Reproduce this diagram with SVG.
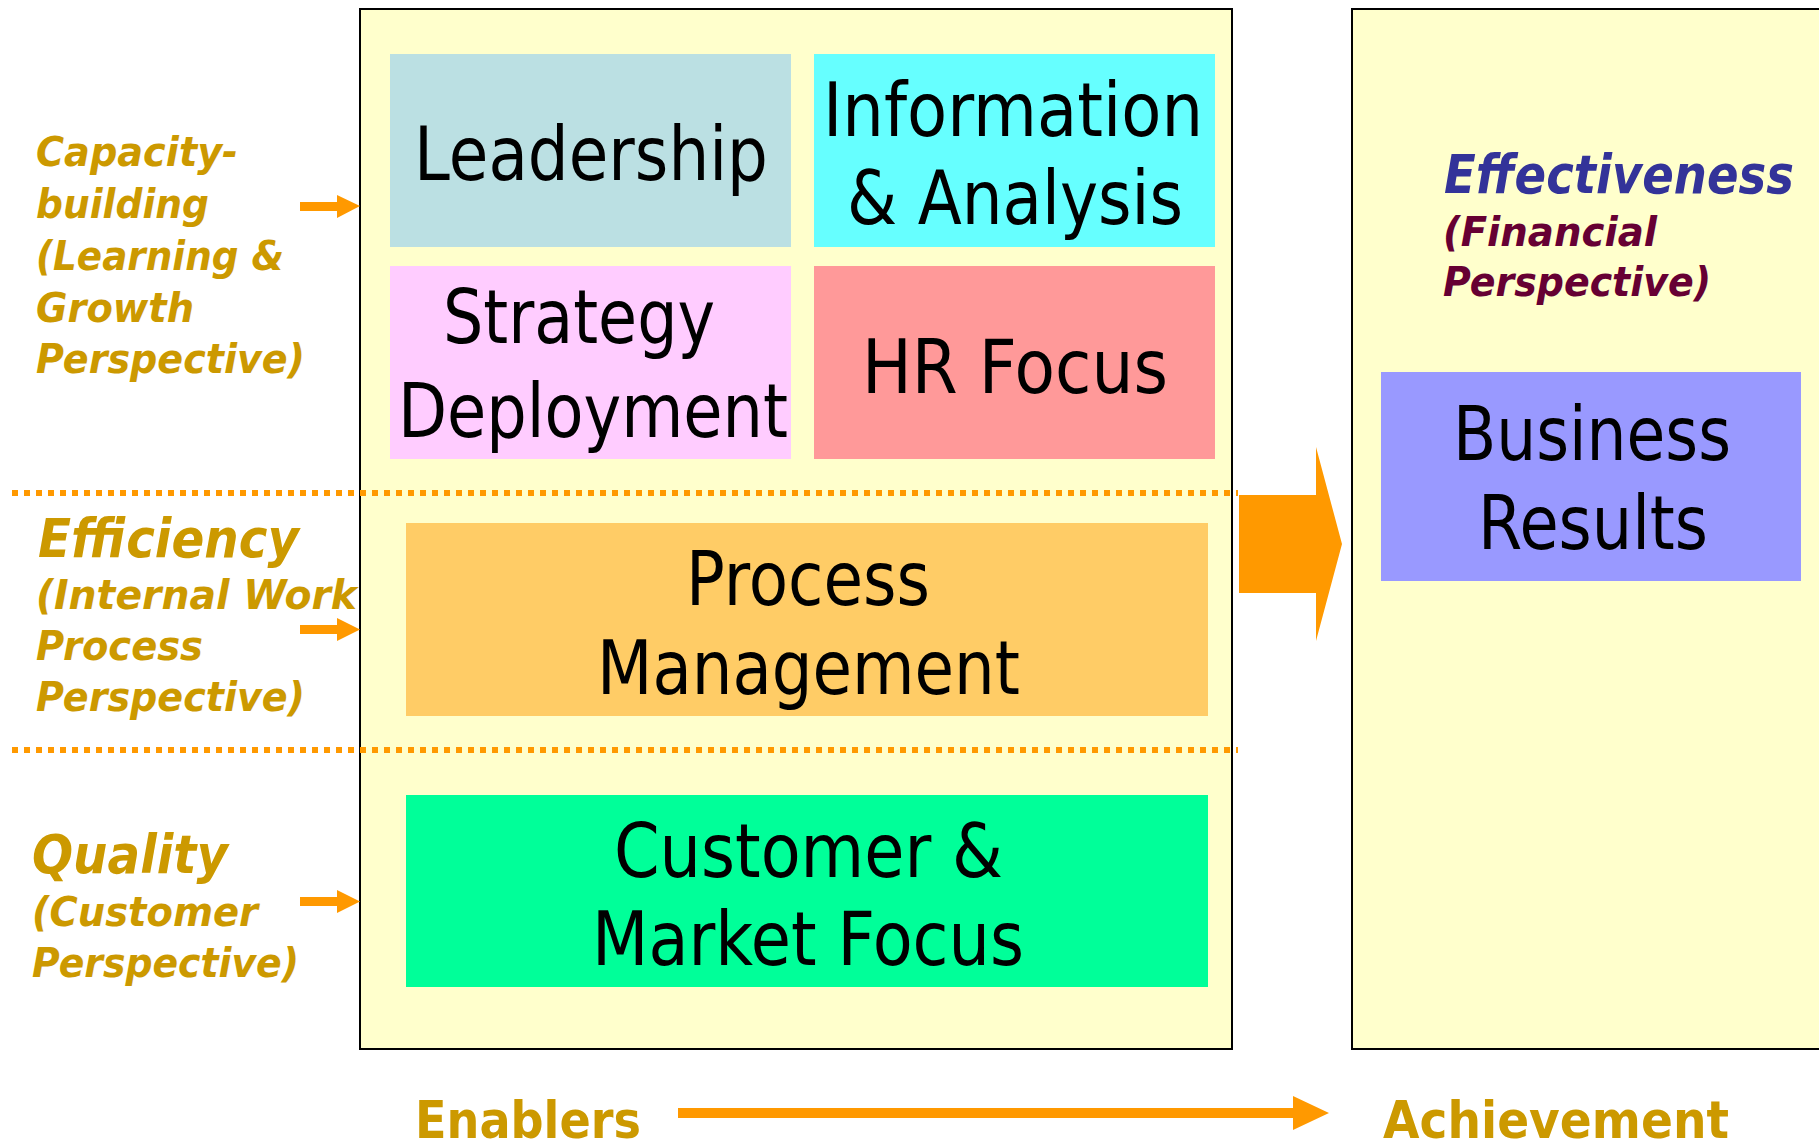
<svg xmlns="http://www.w3.org/2000/svg" width="1819" height="1145" viewBox="0 0 1819 1145">
<style>
.panel{fill:#FFFFCC;stroke:#000;stroke-width:2}
.box{font-family:"DejaVu Sans",Verdana,sans-serif;font-size:75px;fill:#000}
.lbl{font-family:"DejaVu Sans","Liberation Sans",sans-serif;font-weight:bold;font-style:italic;font-size:41px;fill:#CC9900}
.big{font-size:53px}
.axis{font-family:"DejaVu Sans","Liberation Sans",sans-serif;font-weight:bold;font-size:51px;fill:#CC9900}
.sep{stroke:#FF9900;stroke-width:6;stroke-dasharray:6 6;fill:none}
.arr{fill:#FF9900}
</style>
<rect width="1819" height="1145" fill="#fff"/>
<g id="panel-enablers"><rect class="panel" x="360" y="9" width="872" height="1040"/></g>
<g id="panel-achievement"><rect class="panel" x="1352" y="9" width="480" height="1040"/></g>
<g id="separators">
<line class="sep" x1="12" y1="493" x2="1238" y2="493"/>
<line class="sep" x1="12" y1="750" x2="1238" y2="750"/>
</g>
<g id="leadership"><rect x="390" y="54" width="401" height="193" fill="#BBE0E3"/>
<text class="box" x="414" y="180" textLength="354" lengthAdjust="spacingAndGlyphs">Leadership</text></g>
<g id="information-analysis"><rect x="814" y="54" width="401" height="193" fill="#66FFFF"/>
<text class="box" x="823" y="136" textLength="380" lengthAdjust="spacingAndGlyphs">Information</text>
<text class="box" x="847" y="224" textLength="336" lengthAdjust="spacingAndGlyphs">&amp; Analysis</text></g>
<g id="strategy-deployment"><rect x="390" y="266" width="401" height="193" fill="#FFCCFF"/>
<text class="box" x="443" y="343" textLength="272" lengthAdjust="spacingAndGlyphs">Strategy</text>
<text class="box" x="398" y="437" textLength="390" lengthAdjust="spacingAndGlyphs">Deployment</text></g>
<g id="hr-focus"><rect x="814" y="266" width="401" height="193" fill="#FF9999"/>
<text class="box" x="862" y="393" textLength="306" lengthAdjust="spacingAndGlyphs">HR Focus</text></g>
<g id="process-management"><rect x="406" y="523" width="802" height="193" fill="#FFCC66"/>
<text class="box" x="686" y="605" textLength="244" lengthAdjust="spacingAndGlyphs">Process</text>
<text class="box" x="597" y="694" textLength="423" lengthAdjust="spacingAndGlyphs">Management</text></g>
<g id="customer-market-focus"><rect x="406" y="795" width="802" height="192" fill="#00FF99"/>
<text class="box" x="614" y="877" textLength="389" lengthAdjust="spacingAndGlyphs">Customer &amp;</text>
<text class="box" x="592" y="965" textLength="432" lengthAdjust="spacingAndGlyphs">Market Focus</text></g>
<g id="business-results"><rect x="1381" y="372" width="420" height="209" fill="#9999FF"/>
<text class="box" x="1453" y="460" textLength="278" lengthAdjust="spacingAndGlyphs">Business</text>
<text class="box" x="1478" y="549" textLength="230" lengthAdjust="spacingAndGlyphs">Results</text></g>
<g id="label-capacity">
<text class="lbl" x="36" y="166" textLength="202" lengthAdjust="spacingAndGlyphs">Capacity-</text>
<text class="lbl" x="36" y="218" textLength="173" lengthAdjust="spacingAndGlyphs">building</text>
<text class="lbl" x="36" y="270" textLength="248" lengthAdjust="spacingAndGlyphs">(Learning &amp;</text>
<text class="lbl" x="36" y="322" textLength="158" lengthAdjust="spacingAndGlyphs">Growth</text>
<text class="lbl" x="36" y="373" textLength="269" lengthAdjust="spacingAndGlyphs">Perspective)</text>
</g>
<g id="label-efficiency">
<text class="lbl big" x="38" y="557" textLength="261" lengthAdjust="spacingAndGlyphs">Efficiency</text>
<text class="lbl" x="36" y="609" textLength="321" lengthAdjust="spacingAndGlyphs">(Internal Work</text>
<text class="lbl" x="36" y="660" textLength="167" lengthAdjust="spacingAndGlyphs">Process</text>
<text class="lbl" x="36" y="711" textLength="269" lengthAdjust="spacingAndGlyphs">Perspective)</text>
</g>
<g id="label-quality">
<text class="lbl big" x="32" y="873" textLength="196" lengthAdjust="spacingAndGlyphs">Quality</text>
<text class="lbl" x="32" y="926" textLength="226" lengthAdjust="spacingAndGlyphs">(Customer</text>
<text class="lbl" x="32" y="977" textLength="267" lengthAdjust="spacingAndGlyphs">Perspective)</text>
</g>
<g id="label-effectiveness">
<text class="lbl big" x="1444" y="193" style="fill:#333399" textLength="350" lengthAdjust="spacingAndGlyphs">Effectiveness</text>
<text class="lbl" x="1443" y="246" style="fill:#660033" textLength="214" lengthAdjust="spacingAndGlyphs">(Financial</text>
<text class="lbl" x="1443" y="296" style="fill:#660033" textLength="268" lengthAdjust="spacingAndGlyphs">Perspective)</text>
</g>
<g id="label-enablers"><text class="axis" x="415" y="1138" textLength="226" lengthAdjust="spacingAndGlyphs">Enablers</text></g>
<g id="label-achievement"><text class="axis" x="1383" y="1138" textLength="346" lengthAdjust="spacingAndGlyphs">Achievement</text></g>
<g id="connectors">
<polygon class="arr" points="300,202 337,202 337,195 360,206 337,218 337,211 300,211"/>
<polygon class="arr" points="300,625 337,625 337,618 360,629.5 337,641 337,634 300,634"/>
<polygon class="arr" points="300,897 337,897 337,890 360,901.5 337,913 337,906 300,906"/>
<polygon class="arr" points="1239,495 1316,495 1316,447 1342,544 1316,641 1316,593 1239,593"/>
<polygon class="arr" points="678,1108 1293,1108 1293,1096 1329,1113 1293,1130 1293,1118 678,1118"/>
</g>
</svg>
